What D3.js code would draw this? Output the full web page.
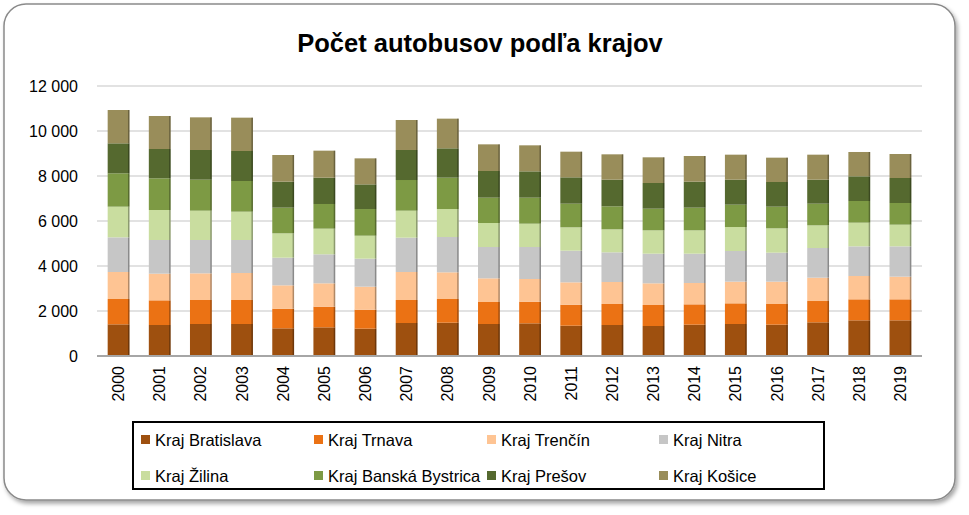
<!DOCTYPE html>
<html lang="sk">
<head>
  <meta charset="UTF-8">
  <title>Počet autobusov podľa krajov</title>
  <style>
    body {
      margin: 0;
      background: #fff;
      font-family: Calibri, Carlito, "Liberation Sans", Arial, sans-serif;
    }
    .grid line { stroke: #d9d9d9; stroke-width: 1.5; }
    .xlab { font-family: "Liberation Sans", Arial, sans-serif; font-size: 16px; fill: #000; }
    .ylab { font-family: "Liberation Sans", Arial, sans-serif; font-size: 16px; fill: #000; }
  </style>
  <script src="https://cdn.jsdelivr.net/npm/d3@7"></script>
</head>
<body>
<svg width="969" height="515"></svg>
<script>
  // data
  const years = ["2000","2001","2002","2003","2004","2005","2006","2007","2008","2009",
                 "2010","2011","2012","2013","2014","2015","2016","2017","2018","2019"];
  const regions = ["Kraj Bratislava","Kraj Trnava","Kraj Trenčín","Kraj Nitra",
                   "Kraj Žilina","Kraj Banská Bystrica","Kraj Prešov","Kraj Košice"];
  const bratislava = [1407,1378,1422,1422,1230,1274,1215,1467,1481,1422,1452,1348,1378,1333,1393,1422,1393,1496,1585,1585];
  const trnava     = [1126,1096,1067,1067,874,919,844,1022,1052,978,963,933,933,934,903,919,918,948,934,934];
  const trencin    = [1200,1185,1185,1200,1037,1037,1022,1244,1186,1052,1007,993,978,963,948,963,993,1037,1037,1007];
  const nitra      = [1541,1497,1482,1467,1229,1289,1244,1526,1570,1392,1422,1407,1318,1318,1304,1363,1289,1319,1318,1348];
  const zilina     = [1363,1333,1303,1259,1082,1141,1022,1200,1244,1067,1037,1038,1023,1037,1037,1066,1081,1007,1052,963];
  const bystrica   = [1482,1407,1378,1363,1141,1096,1185,1363,1393,1126,1156,1051,1022,963,1008,993,963,963,963,963];
  const presov     = [1333,1304,1319,1333,1155,1170,1096,1334,1304,1185,1170,1171,1185,1141,1155,1111,1096,1067,1096,1111];
  const kosice     = [1481,1467,1451,1482,1185,1200,1156,1333,1319,1185,1156,1140,1126,1141,1141,1111,1082,1111,1082,1067];
  const yTicks = [0, 2000, 4000, 6000, 8000, 10000, 12000];

  const series = [bratislava, trnava, trencin, nitra, zilina, bystrica, presov, kosice];
  const colors = ["#9e500f","#eb7214","#fec493","#c6c6c6","#c9dd9f","#7d9a44","#55692f","#998d5a"];

  const rows = years.map((y, i) => {
    const r = { year: y };
    regions.forEach((k, j) => r[k] = series[j][i]);
    return r;
  });

  const svg = d3.select("svg");

  // chart frame with soft shadow
  const defs = svg.append("defs");
  const f = defs.append("filter").attr("id", "shadow")
    .attr("x", "-5%").attr("y", "-5%").attr("width", "110%").attr("height", "115%");
  f.append("feDropShadow").attr("dx", 2).attr("dy", 3).attr("stdDeviation", 2)
    .attr("flood-color", "#000").attr("flood-opacity", 0.35);

  svg.append("rect")
    .attr("x", 4).attr("y", 4).attr("width", 951).attr("height", 496)
    .attr("rx", 22).attr("ry", 22)
    .attr("fill", "#fff").attr("stroke", "#8a8a8a").attr("stroke-width", 1.5)
    .attr("filter", "url(#shadow)");

  svg.append("text")
    .attr("x", 480).attr("y", 52)
    .attr("text-anchor", "middle")
    .attr("font-family", "'Liberation Sans', Arial, sans-serif")
    .attr("font-weight", "bold").attr("font-size", 25.5)
    .text("Počet autobusov podľa krajov");

  const x = d3.scaleBand().domain(years).range([98, 921])
    .paddingInner(0.47).paddingOuter(0.235);
  const y = d3.scaleLinear().domain([0, 12000]).range([356, 86]);

  // gridlines
  svg.append("g").attr("class", "grid")
    .selectAll("line").data(yTicks.filter(d => d > 0)).join("line")
    .attr("x1", 97).attr("x2", 922)
    .attr("y1", d => y(d)).attr("y2", d => y(d));

  svg.append("g").selectAll("text").data(yTicks).join("text")
    .attr("class", "ylab")
    .attr("x", 78).attr("y", d => y(d)).attr("dy", "0.35em")
    .attr("text-anchor", "end")
    .text(d => d === 0 ? "0" : d3.format(",")(d).replace(/,/g, " "));

  const stack = d3.stack().keys(regions)(rows);

  const layer = svg.append("g").selectAll("g").data(stack).join("g")
    .attr("fill", (d, i) => colors[i]);

  layer.selectAll("rect.seg").data(d => d).join("rect")
    .attr("class", "seg")
    .attr("x", d => x(d.data.year))
    .attr("width", x.bandwidth())
    .attr("y", d => y(d[1]))
    .attr("height", d => y(d[0]) - y(d[1]));

  // darker right edge, as on the bevelled bars
  layer.selectAll("rect.edge").data(d => d).join("rect")
    .attr("class", "edge")
    .attr("x", d => x(d.data.year) + x.bandwidth() - 1.5)
    .attr("width", 1.5)
    .attr("y", d => y(d[1]))
    .attr("height", d => y(d[0]) - y(d[1]))
    .attr("fill", "#000").attr("fill-opacity", 0.3);

  // base line
  svg.append("line")
    .attr("x1", 97).attr("x2", 922).attr("y1", y(0)).attr("y2", y(0))
    .attr("stroke", "#a6a6a6").attr("stroke-width", 2);

  svg.append("g").selectAll("text").data(years).join("text")
    .attr("class", "xlab")
    .attr("transform", d => `translate(${x(d) + x.bandwidth() / 2},366) rotate(-90)`)
    .attr("text-anchor", "end").attr("dy", "0.35em")
    .text(d => d);

  // legend
  const lg = svg.append("g");
  lg.append("rect")
    .attr("x", 133).attr("y", 422).attr("width", 691).attr("height", 67)
    .attr("fill", "none").attr("stroke", "#000").attr("stroke-width", 2);

  const colX = [141, 314, 487, 659];
  const rowY = [440, 476];
  const item = lg.selectAll("g").data(regions).join("g")
    .attr("transform", (d, i) => `translate(${colX[i % 4]},${rowY[Math.floor(i / 4)]})`);
  item.append("rect")
    .attr("x", 0).attr("y", -5).attr("width", 9).attr("height", 9)
    .attr("fill", (d, i) => colors[i]);
  item.append("text")
    .attr("x", 14).attr("dy", "0.35em")
    .attr("font-family", "'Liberation Sans', Arial, sans-serif")
    .attr("font-size", 16.5)
    .text(d => d);
</script>
</body>
</html>
